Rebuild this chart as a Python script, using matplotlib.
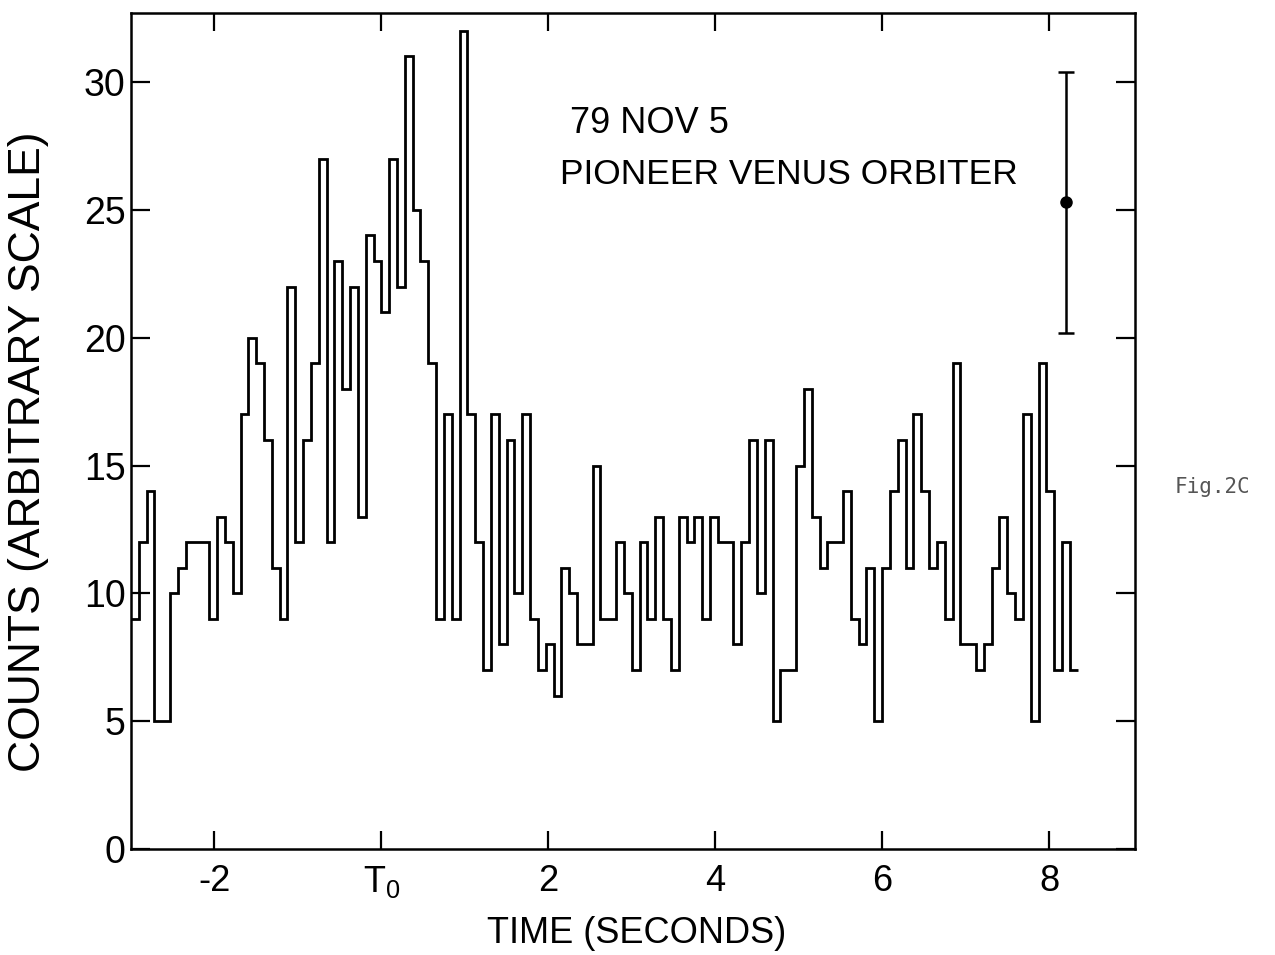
import numpy as np
import matplotlib
matplotlib.use("Agg")
import matplotlib.pyplot as plt

plt.rcParams['font.family'] = ['Liberation Sans', 'DejaVu Sans']
plt.rcParams['mathtext.fontset'] = 'custom'
plt.rcParams['mathtext.rm'] = 'Liberation Sans'

# histogram, one value per time bin
t_start = -3.0
bin_width = 0.09375
counts = [
    9, 12, 14, 5, 5, 10, 11, 12, 12, 12, 9, 13, 12, 10, 17, 20, 19, 16, 11, 9,
    22, 12, 16, 19, 27, 12, 23, 18, 22, 13, 24, 23, 21, 27, 22, 31, 25, 23, 19, 9,
    17, 9, 32, 17, 12, 7, 17, 8, 16, 10, 17, 9, 7, 8, 6, 11, 10, 8, 8, 15, 9, 9,
    12, 10, 7, 12, 9, 13, 9, 7, 13, 12, 13, 9, 13, 12, 12, 8, 12, 16, 10,
    16, 5, 7, 7, 15, 18, 13, 11, 12, 12, 14, 9, 8, 11, 5, 11, 14, 16, 11, 17, 14,
    11, 12, 9, 19, 8, 8, 7, 8, 11, 13, 10, 9, 17, 5, 19, 14, 7, 12, 7,
]
edges = t_start + bin_width * np.arange(len(counts) + 1)

# representative error bar
err_t = 8.2
err_y = 25.3
err_dy = 5.1

xticks = [-2, 0, 2, 4, 6, 8]
xticklabels = ['-2', r'$\mathrm{T_0}$', '2', '4', '6', '8']
yticks = [0, 5, 10, 15, 20, 25, 30]

fig = plt.figure(figsize=(12.75, 9.55), dpi=100)
ax = fig.add_axes([131/1275, 1-849/955, (1135-131)/1275, (849-13)/955])

ax.stairs(counts, edges, baseline=None, color='black', lw=2.0)
ax.errorbar(err_t, err_y, yerr=err_dy, fmt='o', color='black', ms=8,
            capsize=6, elinewidth=1.8, capthick=1.8)

ax.set_xlim(-3.0, 9.03)
ax.set_ylim(0, 32.7)
ax.set_xticks(xticks)
ax.set_xticklabels(xticklabels)
ax.set_yticks(yticks)

ax.tick_params(axis='x', direction='in', length=13, width=1.6, labelsize=26,
               pad=11, top=True)
ax.tick_params(axis='y', direction='in', length=14, width=1.6, labelsize=27,
               pad=4, right=True)
for s in ax.spines.values():
    s.set_linewidth(1.8)

ax.set_xlabel('TIME (SECONDS)', fontsize=26)
ax.xaxis.set_label_coords(0.504, -0.08)
ax.set_ylabel('COUNTS (ARBITRARY SCALE)', fontsize=32)
ax.yaxis.set_label_coords(-0.082, 0.475)

ax.text(2.26, 28.0, '79 NOV 5', fontsize=26, va='baseline')
ax.text(2.14, 26.0, 'PIONEER VENUS ORBITER', fontsize=25.5, va='baseline')

fig.text(1175/1275, 0.49, 'Fig.2C', fontsize=15, color='#555555',
         family='DejaVu Sans Mono', va='center')

fig.savefig('out.png', dpi=100)
